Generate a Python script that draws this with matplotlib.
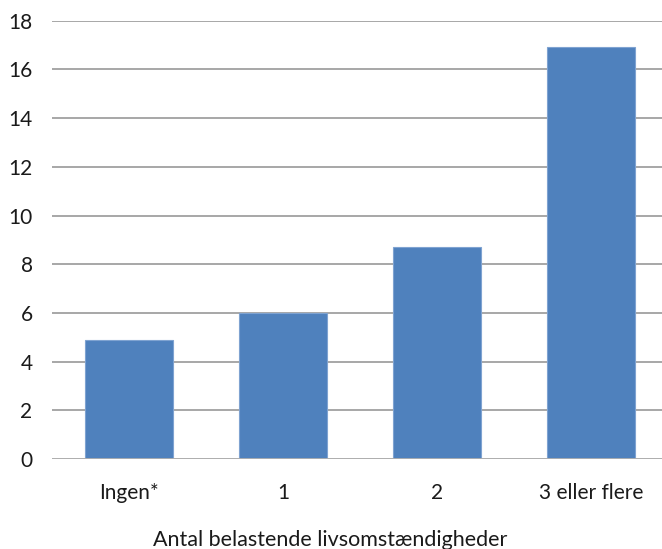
import numpy as np
import matplotlib.pyplot as plt

# Data
categories = ['Ingen*', '1', '2', '3 eller flere']
values = [4.9, 6.0, 8.7, 16.9]
yticks = [0, 2, 4, 6, 8, 10, 12, 14, 16, 18]

plt.rcParams['font.family'] = ['Lato', 'DejaVu Sans']

fig = plt.figure(figsize=(6.62, 5.49), dpi=100)
W, H = 662, 549
left, right, top, bottom = 52, 668, 20.7, 459
ax = fig.add_axes([left / W, 1 - bottom / H, (right - left) / W, (bottom - top) / H])

x = np.arange(len(categories))
ax.bar(x, values, width=0.57, color='#4F81BD', edgecolor='#7FA3D1', linewidth=0.8, zorder=3)

ax.set_xlim(-0.5, 3.5)
ax.set_ylim(0, 18)
ax.set_yticks(yticks)
ax.set_yticklabels([str(t) for t in yticks])
ax.set_xticks(x)
ax.set_xticklabels(categories)
ax.grid(axis='y', color='#A0A0A0', linewidth=1.3, zorder=0)
for s in ax.spines.values():
    s.set_visible(False)
ax.axhline(0, color='#B0B0B0', linewidth=1.3, zorder=4)
ax.tick_params(axis='both', length=0, labelsize=15, colors='#1a1a1a')
ax.tick_params(axis='y', pad=14)
ax.tick_params(axis='x', pad=17)

fig.text(330 / W, 1 - 540 / H, 'Antal belastende livsomstændigheder',
         fontsize=15.5, color='#1a1a1a', ha='center', va='center')

fig.savefig('out.png', dpi=100)
